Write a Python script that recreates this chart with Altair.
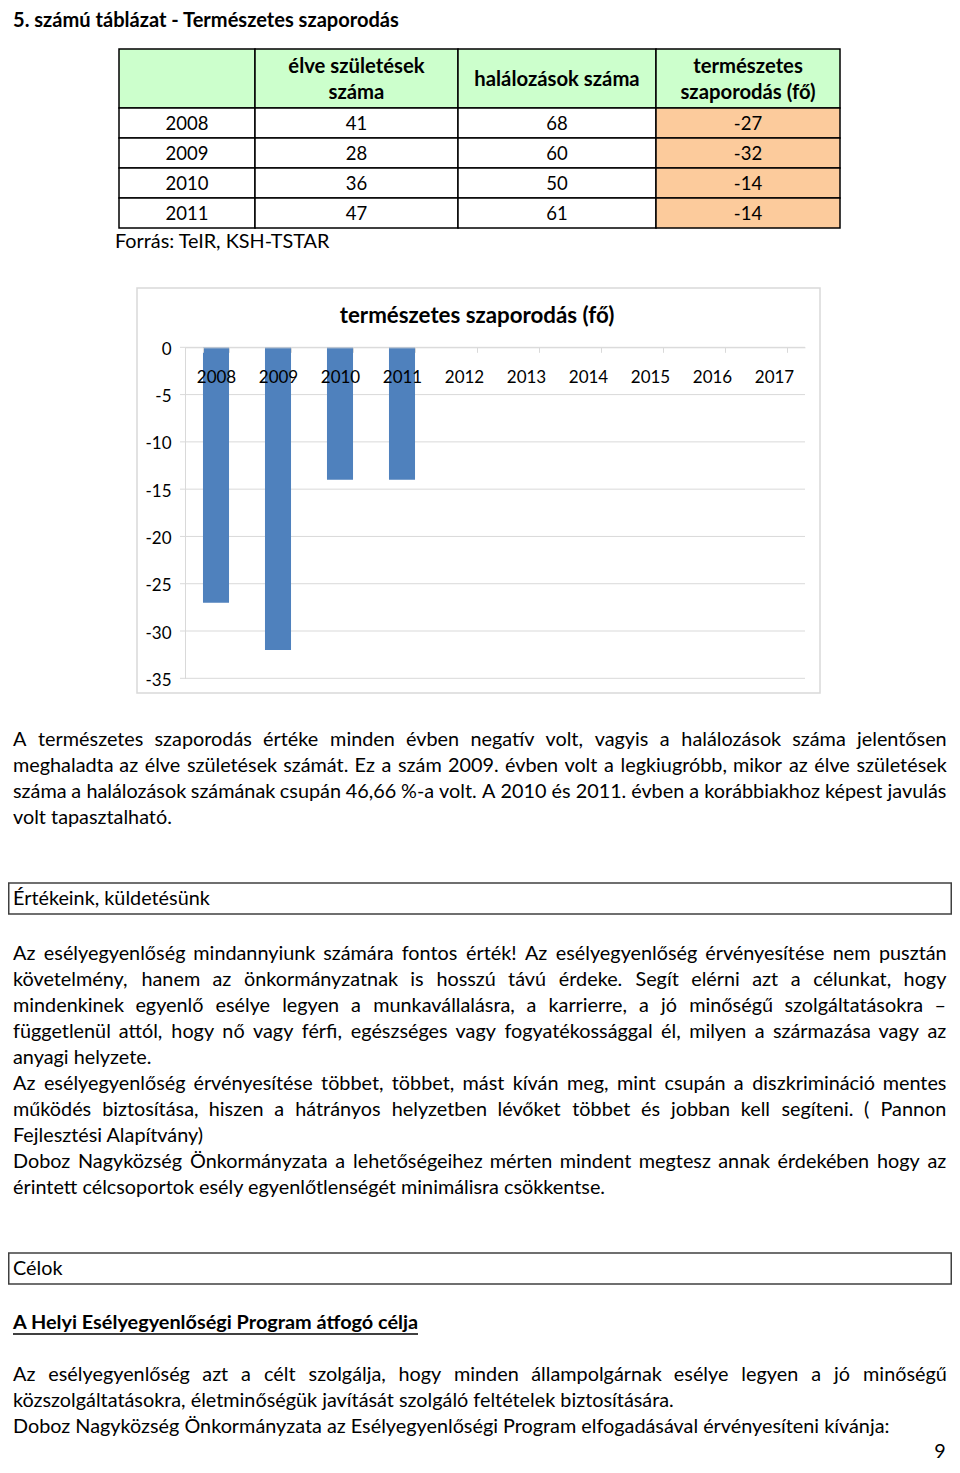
import glob
import os
import struct

import altair as alt
import pandas as pd

# ---------------- data ----------------
table_years = ["2008", "2009", "2010", "2011"]
births = [41, 28, 36, 47]
deaths = [68, 60, 50, 61]
natural = [-27, -32, -14, -14]
header_lines = [[], ["élve születések", "száma"], ["halálozások száma"], ["természetes", "szaporodás (fő)"]]

chart_years = ["2008", "2009", "2010", "2011", "2012", "2013", "2014", "2015", "2016", "2017"]
y_ticks = [0, -5, -10, -15, -20, -25, -30, -35]
chart_title = "természetes szaporodás (fő)"

page_heading = "5. számú táblázat - Természetes szaporodás"
source_note = "Forrás: TeIR, KSH-TSTAR"

para1 = [
    "A természetes szaporodás értéke minden évben negatív volt, vagyis a halálozások száma jelentősen",
    "meghaladta az élve születések számát. Ez a szám 2009. évben volt a legkiugróbb, mikor az élve születések",
    "száma a halálozások számának csupán 46,66 %-a volt. A 2010 és 2011. évben a korábbiakhoz képest javulás",
    "volt tapasztalható.",
]
para1_justified = [True, True, True, False]
box1_label = "Értékeink, küldetésünk"
para2 = [
    "Az esélyegyenlőség mindannyiunk számára fontos érték! Az esélyegyenlőség érvényesítése nem pusztán",
    "követelmény, hanem az önkormányzatnak is hosszú távú érdeke. Segít elérni azt a célunkat, hogy",
    "mindenkinek egyenlő esélye legyen a munkavállalásra, a karrierre, a jó minőségű szolgáltatásokra –",
    "függetlenül attól, hogy nő vagy férfi, egészséges vagy fogyatékossággal él, milyen a származása vagy az",
    "anyagi helyzete.",
    "Az esélyegyenlőség érvényesítése többet, többet, mást kíván meg, mint csupán a diszkrimináció mentes",
    "működés biztosítása, hiszen a hátrányos helyzetben lévőket többet és jobban kell segíteni. ( Pannon",
    "Fejlesztési Alapítvány)",
    "Doboz Nagyközség Önkormányzata a lehetőségeihez mérten mindent megtesz annak érdekében hogy az",
    "érintett célcsoportok esély egyenlőtlenségét minimálisra csökkentse.",
]
para2_justified = [True, True, True, True, False, True, True, False, True, False]
box2_label = "Célok"
goal_heading = "A Helyi Esélyegyenlőségi Program átfogó célja"
para3 = [
    "Az esélyegyenlőség azt a célt szolgálja, hogy minden állampolgárnak esélye legyen a jó minőségű",
    "közszolgáltatásokra, életminőségük javítását szolgáló feltételek biztosítására.",
    "Doboz Nagyközség Önkormányzata az Esélyegyenlőségi Program elfogadásával érvényesíteni kívánja:",
]
para3_justified = [True, False, False]
page_number = "9"


# ---------------- font metrics (for justified text) ----------------
def find_font(patterns):
    dirs = ["/usr/share/fonts", "/usr/local/share/fonts",
            os.path.expanduser("~/.fonts"), os.path.expanduser("~/.local/share/fonts")]
    for pat in patterns:
        for d in dirs:
            hits = sorted(glob.glob(os.path.join(d, "**", pat), recursive=True))
            if hits:
                return hits[0]
    return None


class Metrics:
    def __init__(self, path):
        data = open(path, "rb").read()
        self.data = data
        n = struct.unpack(">H", data[4:6])[0]
        tables = {}
        for i in range(n):
            tag, _cs, off, ln = struct.unpack(">4sIII", data[12 + 16 * i: 28 + 16 * i])
            tables[tag.decode("latin-1")] = off
        off = tables["head"]
        self.upem = struct.unpack(">H", data[off + 18: off + 20])[0]
        off = tables["hhea"]
        nhm = struct.unpack(">H", data[off + 34: off + 36])[0]
        off = tables["hmtx"]
        self.adv = [struct.unpack(">H", data[off + 4 * i: off + 4 * i + 2])[0] for i in range(nhm)]
        coff = tables["cmap"]
        nsub = struct.unpack(">H", data[coff + 2: coff + 4])[0]
        sub4 = sub12 = None
        for i in range(nsub):
            pid, eid, so = struct.unpack(">HHI", data[coff + 4 + 8 * i: coff + 12 + 8 * i])
            fmt = struct.unpack(">H", data[coff + so: coff + so + 2])[0]
            if fmt == 12 and sub12 is None:
                sub12 = coff + so
            if fmt == 4 and sub4 is None and pid in (0, 3):
                sub4 = coff + so
        self.sub4, self.sub12 = sub4, sub12
        self.cache = {}

    def H(self, o):
        return struct.unpack(">H", self.data[o: o + 2])[0]

    def glyph(self, c):
        d = self.data
        if self.sub12 is not None:
            o = self.sub12
            ng = struct.unpack(">I", d[o + 12: o + 16])[0]
            for g in range(ng):
                s, e, sg = struct.unpack(">III", d[o + 16 + 12 * g: o + 28 + 12 * g])
                if s <= c <= e:
                    return sg + c - s
            return 0
        o = self.sub4
        segx2 = self.H(o + 6)
        ends = o + 14
        starts = ends + segx2 + 2
        deltas = starts + segx2
        ros = deltas + segx2
        for s in range(segx2 // 2):
            e = self.H(ends + 2 * s)
            if c > e:
                continue
            st = self.H(starts + 2 * s)
            if c < st:
                return 0
            delta = self.H(deltas + 2 * s)
            ro = self.H(ros + 2 * s)
            if ro == 0:
                return (c + delta) & 0xFFFF
            g = self.H(ros + 2 * s + ro + 2 * (c - st))
            return (g + delta) & 0xFFFF if g else 0
        return 0

    def width(self, text, size):
        tot = 0
        for ch in text:
            c = ord(ch)
            if c not in self.cache:
                g = self.glyph(c)
                self.cache[c] = self.adv[min(g, len(self.adv) - 1)]
            tot += self.cache[c]
        # small correction for kerning applied by the browser
        return 0.99 * tot * size / self.upem


def load(patterns):
    p = find_font(patterns)
    if p is None:
        return None
    try:
        return Metrics(p)
    except Exception:
        return None


REG = load(["Lato-Regular.ttf", "Lato-Reg*.ttf", "Lato*Regular*.ttf"])
BOLD = load(["Lato-Bold.ttf", "Lato*Bold.ttf"])


def fit_size(m, text, target, fallback):
    if m is None:
        return fallback
    w = m.width(text, 1.0)
    if w <= 0:
        return fallback
    return max(fallback * 0.85, min(fallback * 1.2, target / w))


# ---------------- layout ----------------
W, H = 944, 1457
FONT = "Lato"
LH = 26
LEFT = 5
RIGHT = 938
BODY = fit_size(REG, para3[2], 874, 19.9)
HEAD_SIZE = fit_size(BOLD, page_heading, 386, 20)
TITLE_SIZE = fit_size(BOLD, chart_title, 274, 22)
HDR_SIZE = fit_size(BOLD, "halálozások száma", 164, 20)
GOAL_SIZE = fit_size(BOLD, goal_heading, 405, 20)
TABLE_SIZE = 18.5

COL_EDGES = [111, 247, 450, 648, 832]
ROW_EDGES = [41, 100, 130, 160, 190, 220]
GREEN, PEACH = "#ccffcc", "#fccb9c"

PLOT_X = [177, 797]
PLOT_Y0, PLOT_Y35 = 339.3, 670.3


def text_layer(rows, size, weight="normal", align="left", color="#000000", baseline="middle"):
    df = pd.DataFrame(rows, columns=["t", "x", "y"])
    return alt.Chart(df).mark_text(
        font=FONT, fontSize=size, fontWeight=weight, align=align,
        baseline=baseline, color=color
    ).encode(
        x=alt.X("x:Q", scale=None, axis=None),
        y=alt.Y("y:Q", scale=None, axis=None),
        text="t:N",
    )


def para_rows(texts, justified, y0):
    rows = []
    for i, (t, j) in enumerate(zip(texts, justified)):
        y = y0 + i * LH
        words = t.split(" ")
        if not j or REG is None or len(words) < 2:
            rows.append((t, LEFT, y))
            continue
        ws = [REG.width(w, BODY) for w in words]
        gap = (RIGHT - LEFT - sum(ws)) / (len(words) - 1)
        x = LEFT
        for w, wd in zip(words, ws):
            rows.append((w, x, y))
            x += wd + gap
    return rows


def box(x0, x1, y0, y1, color, width=1.5):
    return alt.Chart(pd.DataFrame({"k": [0]})).mark_rect(
        fill=None, stroke=color, strokeWidth=width
    ).encode(
        x=alt.value(x0), x2=alt.value(x1), y=alt.value(y0), y2=alt.value(y1)
    )


# ---- table ----
cells = []
for r in range(5):
    for c in range(4):
        fill = GREEN if r == 0 else (PEACH if c == 3 else "#ffffff")
        cells.append({"x0": COL_EDGES[c], "x1": COL_EDGES[c + 1],
                      "y0": ROW_EDGES[r], "y1": ROW_EDGES[r + 1], "fill": fill})
table_cells = alt.Chart(pd.DataFrame(cells)).mark_rect(stroke="#000000", strokeWidth=1.5).encode(
    x=alt.X("x0:Q", scale=None, axis=None), x2="x1:Q",
    y=alt.Y("y0:Q", scale=None, axis=None), y2="y1:Q",
    fill=alt.Fill("fill:N", scale=None, legend=None),
)

col_cx = [(COL_EDGES[i] + COL_EDGES[i + 1]) / 2 for i in range(4)]
hdr_mid = (ROW_EDGES[0] + ROW_EDGES[1]) / 2 + 1
hdr_rows = []
for c, ls in enumerate(header_lines):
    n = len(ls)
    for i, t in enumerate(ls):
        hdr_rows.append((t, col_cx[c], hdr_mid + (i - (n - 1) / 2) * 26))
table_header = text_layer(hdr_rows, HDR_SIZE, weight="bold", align="center")

body_rows = []
for r, (yr, b, d, n) in enumerate(zip(table_years, births, deaths, natural)):
    ym = (ROW_EDGES[r + 1] + ROW_EDGES[r + 2]) / 2 + 1
    for c, v in enumerate([yr, b, d, n]):
        body_rows.append((str(v), col_cx[c], ym))
table_body = text_layer(body_rows, TABLE_SIZE, align="center")

# ---- bar chart ----
x_scale = alt.Scale(domain=chart_years, range=PLOT_X, paddingInner=0.58, paddingOuter=0.29)
y_scale = alt.Scale(domain=[-35, 0], range=[PLOT_Y35, PLOT_Y0], nice=False, zero=False)

grid = alt.Chart(pd.DataFrame({"v": y_ticks})).mark_rule(color="#d9d9d9", strokeWidth=1).encode(
    y=alt.Y("v:Q", scale=y_scale, axis=None),
    x=alt.value(172), x2=alt.value(PLOT_X[1]),
)
bars = alt.Chart(pd.DataFrame({"year": table_years, "value": natural})).mark_bar(
    color="#4f81bd"
).encode(
    x=alt.X("year:N", scale=x_scale, axis=alt.Axis(
        orient="bottom", offset=-(H - PLOT_Y0), title=None, labelAngle=0,
        domain=True, domainColor="#d9d9d9", ticks=True, tickColor="#d9d9d9",
        tickSize=5, tickBand="extent", labelPadding=17, labelFont=FONT,
        labelFontSize=17, labelColor="#000000", grid=False, zindex=1)),
    y=alt.Y("value:Q", scale=y_scale, axis=alt.Axis(
        orient="left", offset=-PLOT_X[0], values=y_ticks, title=None,
        labelExpr="'' + datum.value", labelOffset=2,
        domain=True, domainColor="#d9d9d9", ticks=False, labelPadding=14,
        labelFont=FONT, labelFontSize=17, labelColor="#000000", grid=False)),
)
chart_box = box(129, 812, 280, 685, "#d9d9d9", 1.5)
chart_title_layer = text_layer([(chart_title, 469, 308)], TITLE_SIZE, weight="bold", align="center")

# ---- document text ----
heading = text_layer([(page_heading, LEFT, 3)], HEAD_SIZE, weight="bold", baseline="top")
source = text_layer([(source_note, 107, 234)], BODY)
p1 = text_layer(para_rows(para1, para1_justified, 732), BODY)
box1 = box(0.75, W - 0.75, 875, 906, "#404040", 1.5)
box1_t = text_layer([(box1_label, LEFT, 891)], BODY)
p2 = text_layer(para_rows(para2, para2_justified, 946), BODY)
box2 = box(0.75, W - 0.75, 1245, 1276, "#404040", 1.5)
box2_t = text_layer([(box2_label, LEFT, 1261)], BODY)
goal_t = text_layer([(goal_heading, LEFT, 1315)], GOAL_SIZE, weight="bold")
underline = alt.Chart(pd.DataFrame({"k": [0]})).mark_rule(color="#000000", strokeWidth=1.5).encode(
    x=alt.value(LEFT), x2=alt.value(410), y=alt.value(1326)
)
p3 = text_layer(para_rows(para3, para3_justified, 1367), BODY)
pnum = text_layer([(page_number, 932, 1444)], BODY, align="center")

chart = alt.layer(
    heading, table_cells, table_header, table_body, source,
    chart_box, chart_title_layer, grid, bars,
    p1, box1, box1_t, p2, box2, box2_t, goal_t, underline, p3, pnum,
).resolve_scale(
    x="independent", y="independent"
).properties(
    width=W, height=H, padding=0, autosize=alt.AutoSizeParams(type="none"),
    background="#ffffff"
).configure_view(stroke=None)

chart.save("out.html", embed_options={"renderer": "svg", "actions": False})
